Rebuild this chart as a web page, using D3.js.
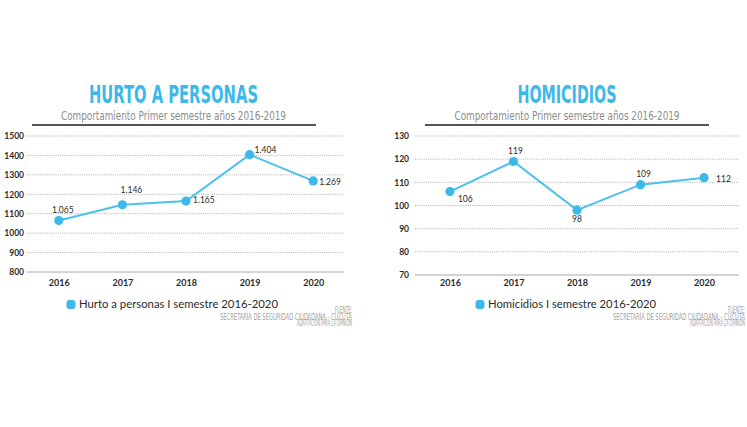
<!DOCTYPE html>
<html>
<head>
<meta charset="utf-8">
<script src="https://cdn.jsdelivr.net/npm/d3@7"></script>
<style>
  body { margin: 0; background: #fff; }
  svg { display: block; }
</style>
</head>
<body>
<div id="chart"></div>
<script>
// values
var years = ['2016', '2017', '2018', '2019', '2020'];
var hurtoValues = [1065, 1146, 1165, 1404, 1269];
var hurtoLabels = ['1.065', '1.146', '1.165', '1.404', '1.269'];
var hurtoTicks = [800, 900, 1000, 1100, 1200, 1300, 1400, 1500];
var homicidiosValues = [106, 119, 98, 109, 112];
var homicidiosLabels = ['106', '119', '98', '109', '112'];
var homicidiosTicks = [70, 80, 90, 100, 110, 120, 130];
var subtitle = 'Comportamiento Primer semestre años 2016-2019';
var sourceLines = ['FUENTE:', 'SECRETARÍA DE SEGURIDAD CIUDADANA - CÚCUTA', 'ADAPTACIÓN PARA LA OPINIÓN'];

var colors = { blue: '#3db8ea', line: '#4cc0ee', grey: '#8c8c8c', text: '#2b2b2b' };
var narrow = '"Liberation Sans Narrow", "DejaVu Sans Condensed", "Roboto", sans-serif';
var round = 'Lato, "Noto Sans", sans-serif';

var svg = d3.select('#chart').append('svg')
  .attr('width', 747)
  .attr('height', 427);

function drawPanel(p){
  var g = svg.append('g');

  var x = d3.scalePoint().domain(years).range([p.x0, p.x1]).padding(p.pad);
  var y = d3.scaleLinear().domain([p.ticks[0], p.ticks[p.ticks.length - 1]]).range([p.yBottom, 136]);

  // title + subtitle + rule
  g.append('text')
    .attr('x', p.cx).attr('y', 103)
    .attr('text-anchor', 'middle')
    .attr('font-family', narrow)
    .attr('font-weight', 'bold')
    .attr('font-size', 25)
    .attr('fill', colors.blue)
    .attr('textLength', p.titleW).attr('lengthAdjust', 'spacingAndGlyphs')
    .text(p.title);

  g.append('text')
    .attr('x', p.cx).attr('y', 119.5)
    .attr('text-anchor', 'middle')
    .attr('font-family', narrow)
    .attr('font-size', 13)
    .attr('fill', colors.grey)
    .attr('textLength', 225).attr('lengthAdjust', 'spacingAndGlyphs')
    .text(subtitle);

  g.append('line')
    .attr('x1', p.ruleX0).attr('x2', p.ruleX0 + 284)
    .attr('y1', 125).attr('y2', 125)
    .attr('stroke', '#1e1e1e').attr('stroke-width', 1.4);

  // grid
  var yAxis = d3.axisLeft(y).tickValues(p.ticks).tickFormat(d3.format('d')).tickSize(0).tickPadding(0);
  var ya = g.append('g').attr('transform', 'translate(' + p.labelX + ',0)').call(yAxis);
  ya.select('.domain').remove();
  ya.selectAll('text')
    .attr('font-family', round).attr('font-weight', 'bold')
    .attr('font-size', 8.5).attr('fill', colors.text);

  g.selectAll('.grid')
    .data(p.ticks)
    .enter().append('line')
    .attr('x1', p.gridX0).attr('x2', p.gridX1)
    .attr('y1', function(d){ return y(d); })
    .attr('y2', function(d){ return y(d); })
    .attr('stroke', function(d, i){ return i == 0 ? '#d4d4d4' : '#9a9a9a'; })
    .attr('stroke-width', function(d, i){ return i == 0 ? 2 : 0.8; })
    .attr('stroke-dasharray', function(d, i){ return i == 0 ? null : '1,1.2'; });

  // x labels
  var xAxis = d3.axisBottom(x).tickSize(0).tickPadding(0);
  var xa = g.append('g').attr('transform', 'translate(0,280)').call(xAxis);
  xa.select('.domain').remove();
  xa.selectAll('text')
    .attr('font-family', round).attr('font-weight', 'bold')
    .attr('font-size', 9).attr('fill', colors.text);

  // line + points
  var line = d3.line()
    .x(function(d, i){ return x(years[i]); })
    .y(function(d){ return y(d); });

  g.append('path')
    .datum(p.values)
    .attr('d', line)
    .attr('fill', 'none')
    .attr('stroke', colors.line)
    .attr('stroke-width', 2);

  g.selectAll('.pt')
    .data(p.values)
    .enter().append('circle')
    .attr('cx', function(d, i){ return x(years[i]); })
    .attr('cy', function(d){ return y(d); })
    .attr('r', 4.6)
    .attr('fill', colors.blue);

  g.selectAll('.lbl')
    .data(p.values)
    .enter().append('text')
    .attr('x', function(d, i){ return x(years[i]) + p.offsets[i][0]; })
    .attr('y', function(d, i){ return y(d) + p.offsets[i][1]; })
    .attr('text-anchor', function(d, i){ return p.offsets[i][2]; })
    .attr('font-family', round)
    .attr('font-size', 8.5)
    .attr('fill', colors.text)
    .text(function(d, i){ return p.labels[i]; });

  // legend
  g.append('rect')
    .attr('x', p.legendX - 4.5).attr('y', 300)
    .attr('width', 9).attr('height', 9).attr('rx', 3)
    .attr('fill', colors.blue);
  g.append('text')
    .attr('x', p.legendX + 8).attr('y', 308)
    .attr('font-family', round)
    .attr('font-size', 11)
    .attr('fill', colors.text)
    .attr('textLength', p.legendW).attr('lengthAdjust', 'spacingAndGlyphs')
    .text(p.legend);

  // source
  var widths = [17, 132, 55];
  g.selectAll('.src')
    .data(sourceLines)
    .enter().append('text')
    .attr('x', p.srcX)
    .attr('y', function(d, i){ return 313 + i * 6.5; })
    .attr('text-anchor', 'end')
    .attr('font-family', narrow)
    .attr('font-size', 8)
    .attr('fill', '#a0a0a0')
    .attr('textLength', function(d, i){ return widths[i]; })
    .attr('lengthAdjust', 'spacingAndGlyphs')
    .text(function(d){ return d; });
}

drawPanel({
  title: 'HURTO A PERSONAS', titleW: 169, cx: 173.5, ruleX0: 32,
  values: hurtoValues, labels: hurtoLabels, ticks: hurtoTicks,
  x0: 27, x1: 345, pad: 0.5, yBottom: 272,
  labelX: 24, gridX0: 27, gridX1: 344,
  offsets: [[4, -8, 'middle'], [9, -12, 'middle'], [7, 2, 'start'], [5, -2, 'start'], [6, 4, 'start']],
  legend: 'Hurto a personas I semestre 2016-2020', legendX: 71, legendW: 199,
  srcX: 352
});

drawPanel({
  title: 'HOMICIDIOS', titleW: 99, cx: 567, ruleX0: 425,
  values: homicidiosValues, labels: homicidiosLabels, ticks: homicidiosTicks,
  x0: 415, x1: 739, pad: 0.55, yBottom: 275,
  labelX: 409, gridX0: 415, gridX1: 739,
  offsets: [[8, 10, 'start'], [2, -7, 'middle'], [0, 12, 'middle'], [3, -8, 'middle'], [12, 4, 'start']],
  legend: 'Homicidios I semestre 2016-2020', legendX: 480, legendW: 168,
  srcX: 745
});
</script>
</body>
</html>
